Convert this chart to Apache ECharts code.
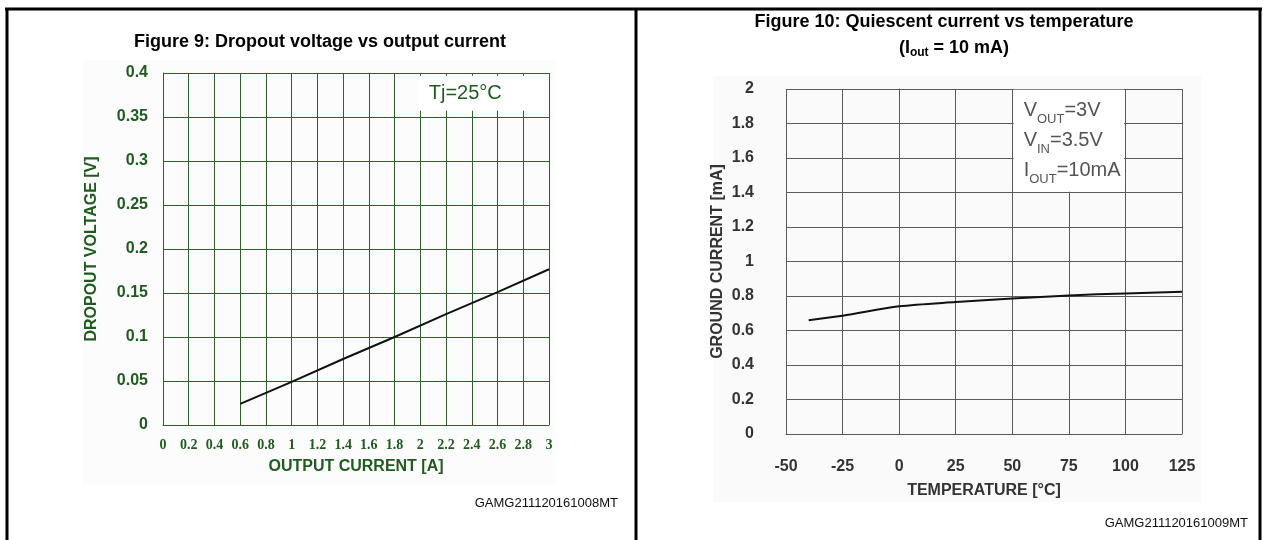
<!DOCTYPE html>
<html>
<head>
<meta charset="utf-8">
<script src="https://cdn.jsdelivr.net/npm/echarts@6/dist/echarts.min.js"></script>
<style>
html,body{margin:0;padding:0;background:#fff;}
#c{width:1263px;height:540px;}
</style>
</head>
<body>
<div id="c"></div>
<script>
// ---- Figure 9 data ----
const fig9Current = [0.6, 1.0, 1.4, 1.8, 2.2, 2.6, 3.0];
const fig9Dropout = [0.024, 0.049, 0.075, 0.100, 0.126, 0.151, 0.177];
// ---- Figure 10 data ----
const fig10Temp = [-40, -25, 0, 25, 50, 75, 100, 125];
const fig10Ground = [0.66, 0.685, 0.74, 0.765, 0.785, 0.803, 0.815, 0.825];

const fig9Title = 'Figure 9: Dropout voltage vs output current';
const fig10Title = 'Figure 10: Quiescent current vs temperature';
const fig9Code = 'GAMG211120161008MT';
const fig10Code = 'GAMG211120161009MT';

const GREEN = '#1f5a1f';
const GREEN_GRID = '#2f612f';
const GRAY = '#333333';
const GRAY_GRID = '#5a5a5a';

const chart = echarts.init(document.getElementById('c'), null, {renderer: 'canvas'});

const option = {
  backgroundColor: '#ffffff',
  animation: false,
  grid: [
    {left: 163, top: 73, width: 386, height: 352, containLabel: false},
    {left: 786, top: 89, width: 396, height: 345, containLabel: false}
  ],
  xAxis: [
    {
      gridIndex: 0, type: 'value', min: 0, max: 3, interval: 0.2,
      name: 'OUTPUT CURRENT [A]', nameLocation: 'middle', nameGap: 34,
      nameTextStyle: {color: GREEN, fontFamily: 'Liberation Sans', fontWeight: 'bold', fontSize: 16},
      axisLine: {show: true, lineStyle: {color: GREEN_GRID, width: 1}},
      axisTick: {show: false},
      axisLabel: {color: GREEN, fontFamily: 'Liberation Serif', fontWeight: 'bold', fontSize: 14, margin: 13,
        formatter: v => String(Math.round(v * 10) / 10)},
      splitLine: {show: true, lineStyle: {color: GREEN_GRID, width: 1}}
    },
    {
      gridIndex: 1, type: 'value', min: -50, max: 125, interval: 25,
      name: 'TEMPERATURE [°C]', nameLocation: 'middle', nameGap: 49,
      nameTextStyle: {color: GRAY, fontFamily: 'Liberation Sans', fontWeight: 'bold', fontSize: 16},
      axisLine: {show: true, lineStyle: {color: GRAY_GRID, width: 1}},
      axisTick: {show: false},
      axisLabel: {color: GRAY, fontFamily: 'Liberation Sans', fontWeight: 'bold', fontSize: 16, margin: 25},
      splitLine: {show: true, lineStyle: {color: GRAY_GRID, width: 1}}
    }
  ],
  yAxis: [
    {
      gridIndex: 0, type: 'value', min: 0, max: 0.4, interval: 0.05,
      name: 'DROPOUT VOLTAGE [V]', nameLocation: 'middle', nameGap: 63, nameRotate: 90,
      nameTextStyle: {color: GREEN, fontFamily: 'Liberation Sans', fontWeight: 'bold', fontSize: 16},
      axisLine: {show: true, lineStyle: {color: GREEN_GRID, width: 1}},
      axisTick: {show: false},
      axisLabel: {color: GREEN, fontFamily: 'Liberation Sans', fontWeight: 'bold', fontSize: 16, margin: 15},
      splitLine: {show: true, lineStyle: {color: GREEN_GRID, width: 1}}
    },
    {
      gridIndex: 1, type: 'value', min: 0, max: 2, interval: 0.2,
      name: 'GROUND CURRENT [mA]', nameLocation: 'middle', nameGap: 60, nameRotate: 90,
      nameTextStyle: {color: GRAY, fontFamily: 'Liberation Sans', fontWeight: 'bold', fontSize: 16},
      axisLine: {show: true, lineStyle: {color: GRAY_GRID, width: 1}},
      axisTick: {show: false},
      axisLabel: {color: GRAY, fontFamily: 'Liberation Sans', fontWeight: 'bold', fontSize: 16, margin: 32},
      splitLine: {show: true, lineStyle: {color: GRAY_GRID, width: 1}}
    }
  ],
  series: [
    {
      type: 'line', xAxisIndex: 0, yAxisIndex: 0,
      data: fig9Current.map((x, i) => [x, fig9Dropout[i]]),
      showSymbol: false, symbol: 'none',
      lineStyle: {color: '#111', width: 2},
      markArea: {
        silent: true,
        itemStyle: {color: '#ffffff', opacity: 1},
        label: {show: true, position: 'insideLeft', offset: [6, 0], color: GREEN,
          fontFamily: 'Liberation Sans', fontSize: 20, formatter: 'Tj=25°C'},
        data: [[{xAxis: 1.98, yAxis: 0.357}, {xAxis: 2.96, yAxis: 0.397}]]
      }
    },
    {
      type: 'line', xAxisIndex: 1, yAxisIndex: 1,
      data: fig10Temp.map((x, i) => [x, fig10Ground[i]]),
      showSymbol: false, symbol: 'none', smooth: 0.3,
      lineStyle: {color: '#111', width: 2},
      markArea: {
        silent: true,
        itemStyle: {color: '#ffffff', opacity: 1},
        label: {show: true, position: 'insideLeft', offset: [5, 0],
          formatter: '{m|V}{s|OUT}{m|=3V}\n{m|V}{s|IN}{m|=3.5V}\n{m|I}{s|OUT}{m|=10mA}',
          rich: {
            m: {fontFamily: 'Liberation Sans', fontSize: 20, lineHeight: 30, color: '#555'},
            s: {fontFamily: 'Liberation Sans', fontSize: 13, lineHeight: 20, color: '#555', verticalAlign: 'bottom'}
          }
        },
        data: [[{xAxis: 50.6, yAxis: 1.405}, {xAxis: 99.4, yAxis: 1.996}]]
      }
    }
  ],
  graphic: [
    // faint panels
    {type: 'rect', z: -10, silent: true, shape: {x: 83, y: 60, width: 473, height: 425}, style: {fill: '#fcfcfc'}},
    {type: 'rect', z: -10, silent: true, shape: {x: 713, y: 76, width: 488, height: 426}, style: {fill: '#fafafa'}},
    // table borders
    {type: 'line', silent: true, shape: {x1: 5, y1: 9, x2: 1262, y2: 9}, style: {stroke: '#000', lineWidth: 3}},
    {type: 'line', silent: true, shape: {x1: 7, y1: 8, x2: 7, y2: 540}, style: {stroke: '#000', lineWidth: 3}},
    {type: 'line', silent: true, shape: {x1: 636, y1: 8, x2: 636, y2: 540}, style: {stroke: '#000', lineWidth: 3}},
    {type: 'line', silent: true, shape: {x1: 1260, y1: 8, x2: 1260, y2: 540}, style: {stroke: '#000', lineWidth: 3}},
    // titles
    {type: 'text', silent: true, x: 320, y: 42, style: {text: fig9Title, fill: '#000', font: 'bold 18px "Liberation Sans"', textAlign: 'center', textVerticalAlign: 'middle'}},
    {type: 'text', silent: true, x: 944, y: 22, style: {text: fig10Title, fill: '#000', font: 'bold 18px "Liberation Sans"', textAlign: 'center', textVerticalAlign: 'middle'}},
    {type: 'text', silent: true, x: 954, y: 48, style: {
      text: '{b|(I}{s|out}{b| = 10 mA)}', textAlign: 'center', textVerticalAlign: 'middle',
      rich: {
        b: {fontFamily: 'Liberation Sans', fontWeight: 'bold', fontSize: 18, fill: '#000', lineHeight: 22},
        s: {fontFamily: 'Liberation Sans', fontWeight: 'bold', fontSize: 12, fill: '#000', lineHeight: 17, verticalAlign: 'bottom'}
      }}},
    // figure codes
    {type: 'text', silent: true, x: 618, y: 503, style: {text: fig9Code, fill: '#111', font: '13px "Liberation Sans"', textAlign: 'right', textVerticalAlign: 'middle'}},
    {type: 'text', silent: true, x: 1248, y: 523, style: {text: fig10Code, fill: '#111', font: '13px "Liberation Sans"', textAlign: 'right', textVerticalAlign: 'middle'}}
  ]
};
chart.setOption(option);
</script>
</body>
</html>
